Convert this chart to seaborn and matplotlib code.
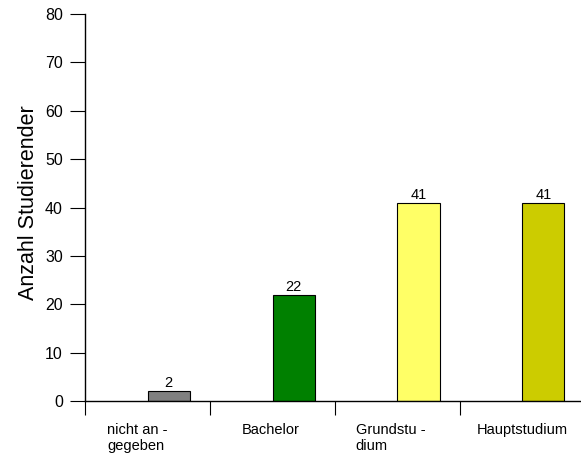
import seaborn as sns
import matplotlib.pyplot as plt
import matplotlib.transforms as mtransforms
import pandas as pd

categories = ["nicht an -\ngegeben", "Bachelor", "Grundstu -\ndium", "Hauptstudium"]
counts = [2, 22, 41, 41]
colors = ["#808080", "#008000", "#FFFF66", "#CCCC00"]

sns.set_style("white")
plt.rcParams['font.family'] = ['Liberation Sans', 'DejaVu Sans']
plt.rcParams['text.color'] = 'black'
plt.rcParams['axes.labelcolor'] = 'black'
plt.rcParams['xtick.color'] = 'black'
plt.rcParams['ytick.color'] = 'black'

df = pd.DataFrame({"cat": categories, "n": counts})

fig = plt.figure(figsize=(5.81, 4.55), dpi=100)
ax = fig.add_axes([85/581, 54/455, 500/581, 387/455])

bw = 0.336
sns.barplot(data=df, x="cat", y="n", hue="cat", palette=colors, legend=False,
            width=bw, edgecolor="black", linewidth=0.8, saturation=1, ax=ax)

# bars start at the category centre
for p in ax.patches:
    p.set_x(p.get_x() + bw / 2)

for p, v in zip(ax.patches, counts):
    ax.text(p.get_x() + p.get_width() / 2, v + 0.2, str(v),
            ha="center", va="bottom", fontsize=10.5)

ax.set_xlim(-0.5, 3.5)
ax.set_ylim(0, 80)
ax.set_yticks(range(0, 81, 10))
ax.set_xticks([0, 1, 2, 3])
ax.set_xticklabels(categories, fontsize=10.5, ha="center", multialignment="left")
ax.set_xticks([-0.5, 0.5, 1.5, 2.5], minor=True)
ax.tick_params(axis="x", which="major", bottom=True, length=0, pad=16)
ax.tick_params(axis="x", which="minor", bottom=True, length=10, width=0.8,
               direction="out", color="black")
ax.tick_params(axis="y", left=True, length=11, width=0.8, direction="out",
               color="black", labelsize=11.5, pad=5)

# nudge the category labels slightly left
for lbl, dx in zip(ax.get_xticklabels(), [-10, -2, -7, 0]):
    lbl.set_transform(lbl.get_transform() +
                      mtransforms.ScaledTranslation(dx / 100, 0, fig.dpi_scale_trans))

ax.set_xlabel("")
ax.set_ylabel("Anzahl Studierender", fontsize=15.5)
ax.yaxis.set_label_coords(-0.093, 0.513)

for s in ["top", "right"]:
    ax.spines[s].set_visible(False)
for s in ["left", "bottom"]:
    ax.spines[s].set_color("black")
    ax.spines[s].set_linewidth(1.0)
ax.grid(False)

fig.savefig("out.png", dpi=100)
